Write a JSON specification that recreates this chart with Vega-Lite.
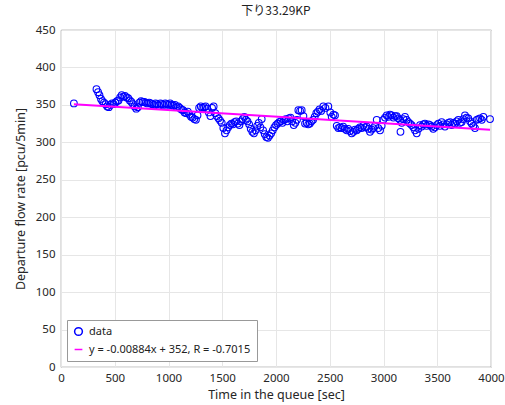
{
  "$schema": "https://vega.github.io/schema/vega-lite/v6.json",
  "width": 430,
  "height": 337,
  "autosize": "none",
  "padding": {"left": 61, "top": 30, "right": 14, "bottom": 38},
  "background": "white",
  "config": {
    "font": "Noto Sans, Noto Sans CJK JP",
    "view": {"stroke": "#444444", "strokeWidth": 0.8},
    "axis": {
      "grid": true, "gridColor": "#e6e6e6", "gridWidth": 1,
      "domain": false, "ticks": false, "labelOverlap": false, "labelFlush": false,
      "labelFontSize": 11.5, "labelColor": "#262626",
      "titleFontSize": 12.5, "titleFontWeight": "normal", "titleColor": "#262626"
    }
  },
  "title": {"text": "下り33.29KP", "font": "Noto Sans CJK JP", "fontSize": 12, "fontWeight": "normal", "offset": 6, "color": "#222222"},
  "datasets": {
    "pts": [
      {"t":120,"v":352},{"t":330,"v":371},{"t":345,"v":367},{"t":358,"v":363},{"t":372,"v":358},{"t":385,"v":355},{"t":400,"v":353},{"t":415,"v":351},{"t":430,"v":348},{"t":445,"v":347},{"t":460,"v":350},{"t":475,"v":352},{"t":490,"v":351},{"t":505,"v":353},{"t":520,"v":355},{"t":535,"v":356},{"t":550,"v":360},{"t":565,"v":363},{"t":580,"v":361},{"t":595,"v":362},{"t":610,"v":360},{"t":625,"v":359},{"t":640,"v":356},{"t":655,"v":354},{"t":670,"v":351},{"t":685,"v":348},{"t":700,"v":345},{"t":715,"v":347},{"t":730,"v":353},{"t":745,"v":355},{"t":760,"v":354},{"t":775,"v":354},{"t":790,"v":353},{"t":805,"v":352},{"t":820,"v":353},{"t":835,"v":352},{"t":850,"v":351},{"t":865,"v":350},{"t":880,"v":352},{"t":895,"v":351},{"t":910,"v":349},{"t":925,"v":352},{"t":940,"v":351},{"t":955,"v":350},{"t":970,"v":352},{"t":985,"v":351},{"t":1000,"v":350},{"t":1015,"v":352},{"t":1030,"v":350},{"t":1045,"v":349},{"t":1060,"v":350},{"t":1075,"v":347},{"t":1090,"v":348},{"t":1105,"v":346},{"t":1120,"v":344},{"t":1135,"v":343},{"t":1150,"v":340},{"t":1165,"v":339},{"t":1180,"v":341},{"t":1195,"v":337},{"t":1210,"v":334},{"t":1225,"v":333},{"t":1240,"v":331},{"t":1255,"v":330},{"t":1270,"v":336},{"t":1285,"v":346},{"t":1300,"v":348},{"t":1315,"v":346},{"t":1330,"v":347},{"t":1345,"v":348},{"t":1360,"v":345},{"t":1375,"v":340},{"t":1390,"v":335},{"t":1405,"v":346},{"t":1420,"v":348},{"t":1435,"v":339},{"t":1450,"v":335},{"t":1465,"v":332},{"t":1480,"v":329},{"t":1495,"v":326},{"t":1510,"v":319},{"t":1525,"v":312},{"t":1540,"v":316},{"t":1555,"v":320},{"t":1570,"v":323},{"t":1585,"v":325},{"t":1600,"v":324},{"t":1615,"v":327},{"t":1630,"v":328},{"t":1645,"v":325},{"t":1660,"v":323},{"t":1675,"v":328},{"t":1690,"v":331},{"t":1705,"v":334},{"t":1720,"v":330},{"t":1735,"v":328},{"t":1750,"v":324},{"t":1765,"v":318},{"t":1780,"v":314},{"t":1795,"v":312},{"t":1810,"v":316},{"t":1825,"v":322},{"t":1840,"v":326},{"t":1855,"v":320},{"t":1867,"v":331},{"t":1880,"v":316},{"t":1895,"v":311},{"t":1910,"v":307},{"t":1925,"v":306},{"t":1940,"v":309},{"t":1955,"v":312},{"t":1970,"v":316},{"t":1985,"v":320},{"t":2000,"v":323},{"t":2015,"v":325},{"t":2030,"v":327},{"t":2045,"v":328},{"t":2060,"v":326},{"t":2075,"v":330},{"t":2090,"v":331},{"t":2105,"v":328},{"t":2120,"v":332},{"t":2135,"v":333},{"t":2150,"v":328},{"t":2165,"v":323},{"t":2180,"v":326},{"t":2195,"v":330},{"t":2208,"v":343},{"t":2224,"v":342},{"t":2239,"v":343},{"t":2255,"v":335},{"t":2270,"v":325},{"t":2285,"v":326},{"t":2300,"v":324},{"t":2315,"v":325},{"t":2330,"v":328},{"t":2345,"v":330},{"t":2360,"v":334},{"t":2375,"v":339},{"t":2390,"v":341},{"t":2405,"v":344},{"t":2420,"v":342},{"t":2440,"v":348},{"t":2460,"v":346},{"t":2487,"v":348},{"t":2505,"v":340},{"t":2518,"v":334},{"t":2535,"v":337},{"t":2549,"v":336},{"t":2565,"v":322},{"t":2580,"v":319},{"t":2595,"v":320},{"t":2611,"v":319},{"t":2625,"v":321},{"t":2640,"v":318},{"t":2658,"v":316},{"t":2672,"v":318},{"t":2688,"v":315},{"t":2704,"v":312},{"t":2720,"v":314},{"t":2735,"v":317},{"t":2751,"v":316},{"t":2765,"v":318},{"t":2780,"v":320},{"t":2797,"v":319},{"t":2812,"v":322},{"t":2828,"v":320},{"t":2844,"v":321},{"t":2860,"v":318},{"t":2874,"v":314},{"t":2890,"v":317},{"t":2905,"v":319},{"t":2921,"v":322},{"t":2937,"v":330},{"t":2952,"v":319},{"t":2968,"v":316},{"t":2983,"v":322},{"t":2998,"v":330},{"t":3014,"v":333},{"t":3030,"v":336},{"t":3045,"v":334},{"t":3060,"v":337},{"t":3076,"v":336},{"t":3092,"v":333},{"t":3107,"v":335},{"t":3123,"v":335},{"t":3138,"v":332},{"t":3154,"v":330},{"t":3158,"v":314},{"t":3170,"v":326},{"t":3185,"v":331},{"t":3200,"v":334},{"t":3215,"v":330},{"t":3231,"v":327},{"t":3246,"v":325},{"t":3262,"v":323},{"t":3278,"v":320},{"t":3293,"v":316},{"t":3309,"v":312},{"t":3325,"v":318},{"t":3340,"v":323},{"t":3355,"v":321},{"t":3370,"v":324},{"t":3386,"v":325},{"t":3402,"v":322},{"t":3418,"v":324},{"t":3433,"v":323},{"t":3448,"v":321},{"t":3463,"v":318},{"t":3479,"v":320},{"t":3495,"v":323},{"t":3510,"v":325},{"t":3525,"v":322},{"t":3541,"v":327},{"t":3557,"v":324},{"t":3572,"v":321},{"t":3588,"v":324},{"t":3603,"v":326},{"t":3619,"v":327},{"t":3634,"v":323},{"t":3650,"v":326},{"t":3665,"v":325},{"t":3680,"v":328},{"t":3696,"v":330},{"t":3712,"v":326},{"t":3727,"v":327},{"t":3742,"v":331},{"t":3758,"v":336},{"t":3773,"v":333},{"t":3789,"v":332},{"t":3805,"v":328},{"t":3820,"v":325},{"t":3836,"v":322},{"t":3851,"v":319},{"t":3867,"v":330},{"t":3882,"v":331},{"t":3898,"v":332},{"t":3914,"v":330},{"t":3929,"v":334},{"t":3991,"v":331}
    ],
    "fit": [
      {"t":120,"v":350.9},{"t":3991,"v":316.7}
    ]
  },
  "layer": [
    {
      "data": {"name": "pts"},
      "mark": {"type": "point", "filled": false, "size": 45, "strokeWidth": 1.1, "opacity": 1},
      "transform": [{"calculate": "'data'", "as": "s"}],
      "encoding": {
        "x": {"field": "t", "type": "quantitative", "scale": {"domain": [0, 4000], "nice": false}, "axis": {"values": [0,500,1000,1500,2000,2500,3000,3500,4000], "format": "d", "title": "Time in the queue [sec]", "labelPadding": 5, "titlePadding": 5}},
        "y": {"field": "v", "type": "quantitative", "scale": {"domain": [0, 450], "nice": false}, "axis": {"values": [0,50,100,150,200,250,300,350,400,450], "tickCount": 10, "format": "d", "title": "Departure flow rate [pcu/5min]", "labelPadding": 6, "titlePadding": 8}},
        "color": {"field": "s", "type": "nominal", "scale": {"domain": ["data", "y = -0.00884x + 352, R = -0.7015"], "range": ["#0000ff", "#ff00ff"]},
          "legend": {"title": null, "orient": "bottom-left", "offset": 6, "strokeColor": "#999999", "fillColor": "white", "padding": 6, "labelFontSize": 11, "labelColor": "#222222", "labelLimit": 400, "symbolSize": 60, "symbolStrokeWidth": 1.5, "rowPadding": 4, "labelOffset": 5,
            "encode": {"symbols": {"update": {"size": {"signal": "datum.value === 'data' ? 45 : 800"}}}}}},
        "shape": {"field": "s", "type": "nominal", "scale": {"domain": ["data", "y = -0.00884x + 352, R = -0.7015"], "range": ["circle", "stroke"]}}
      }
    },
    {
      "data": {"name": "fit"},
      "mark": {"type": "line", "color": "#ff00ff", "strokeWidth": 2},
      "encoding": {
        "x": {"field": "t", "type": "quantitative", "axis": {"values": [0,500,1000,1500,2000,2500,3000,3500,4000], "format": "d", "title": "Time in the queue [sec]", "labelPadding": 5, "titlePadding": 5}},
        "y": {"field": "v", "type": "quantitative", "axis": {"values": [0,50,100,150,200,250,300,350,400,450], "tickCount": 10, "format": "d", "title": "Departure flow rate [pcu/5min]", "labelPadding": 6, "titlePadding": 8}}
      }
    }
  ]
}
